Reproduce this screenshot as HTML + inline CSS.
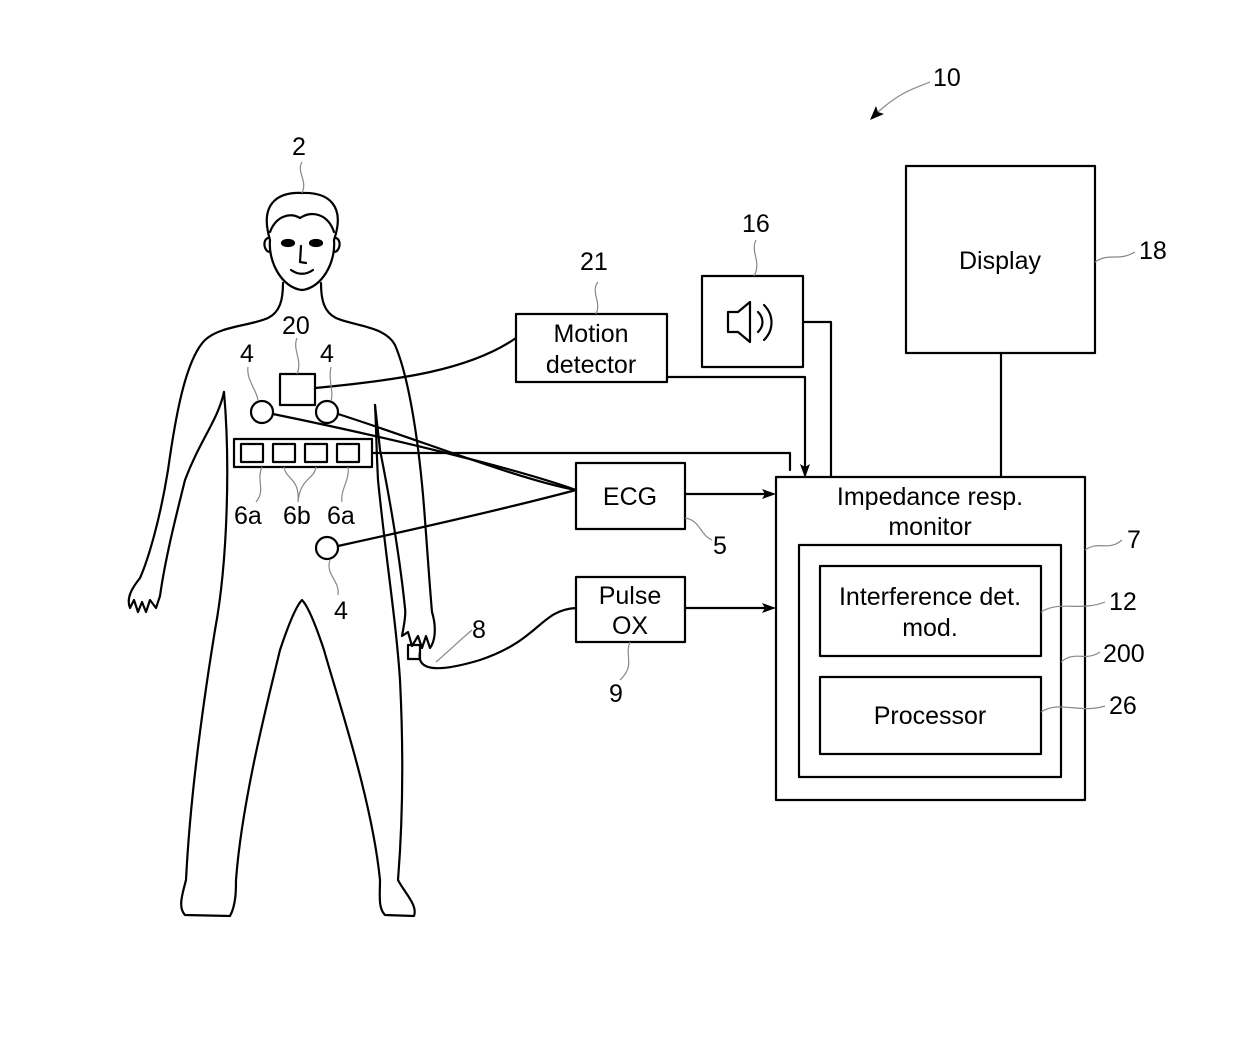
<!DOCTYPE html>
<html><head><meta charset="utf-8"><style>
body{margin:0;background:#fff}
svg{display:block}
text{font-family:"Liberation Sans",sans-serif;font-size:25px;fill:#000}
</style></head><body>
<svg width="1240" height="1044" viewBox="0 0 1240 1044" xmlns="http://www.w3.org/2000/svg">
<g fill="none" stroke="#000" stroke-width="2.2" stroke-linejoin="round" stroke-linecap="round">
<!-- head -->
<path d="M270,240 C258,200 282,192 302,193 C328,192 346,205 334,240 C336,262 322,288 302,290 C282,288 268,262 270,240 Z"/>
<path d="M270,232 C276,216 290,212 300,218 C312,210 328,214 334,232"/>
<path d="M268,238 C262,240 264,252 270,252 M336,238 C342,240 340,252 334,252"/>
<ellipse cx="288" cy="243" rx="6" ry="3" fill="#000"/><ellipse cx="316" cy="243" rx="6" ry="3" fill="#000"/>
<path d="M301,246 L300,262 L306,263"/>
<path d="M291,270 C298,275 306,275 313,270"/>
<!-- body -->
<path d="M283,283 C283,300 280,312 268,318 C250,326 220,326 205,340 C185,360 175,420 168,470 C160,520 148,560 140,578 C132,588 126,598 130,608 L134,600 L138,612 L142,602 L146,612 L150,600 L156,608 L160,596 C165,560 175,520 185,480 C200,440 218,420 224,392"/>
<path d="M224,392 C230,460 228,560 215,630 C202,710 190,800 186,880 C182,895 178,908 185,915 L230,916 C236,905 236,890 236,880 C242,800 268,700 280,650 C290,620 297,605 302,600 C307,605 314,620 324,650 C338,700 372,800 380,880 C380,895 378,908 385,915 L414,916 C418,905 404,892 398,880 C402,830 404,760 400,680 C396,620 386,560 378,480 C376,440 376,420 375,405"/>
<path d="M321,283 C321,300 324,312 336,318 C354,326 385,326 395,345 C410,380 420,450 425,520 C428,560 430,590 432,612 C436,625 436,640 430,648 L426,636 L422,648 L418,636 L412,646 L408,632 L402,636 C404,625 406,615 405,608 C400,560 390,500 380,450 C378,430 376,415 375,405"/>
<!-- sensors -->
<rect x="280" y="374" width="35" height="31"/>
<circle cx="262" cy="412" r="11"/><circle cx="327" cy="412" r="11"/><circle cx="327" cy="548" r="11"/>
<rect x="234" y="439" width="138" height="28"/>
<rect x="241" y="444" width="22" height="18"/><rect x="273" y="444" width="22" height="18"/><rect x="305" y="444" width="22" height="18"/><rect x="337" y="444" width="22" height="18"/>
<rect x="408" y="645" width="12" height="14"/>
<!-- boxes -->
<rect x="516" y="314" width="151" height="68"/>
<rect x="702" y="276" width="101" height="91"/>
<rect x="906" y="166" width="189" height="187"/>
<rect x="576" y="463" width="109" height="66"/>
<rect x="576" y="577" width="109" height="65"/>
<rect x="776" y="477" width="309" height="323"/>
<rect x="799" y="545" width="262" height="232"/>
<rect x="820" y="566" width="221" height="90"/>
<rect x="820" y="677" width="221" height="77"/>
<!-- speaker -->
<path d="M728,312 L738,312 L750,302 L750,342 L738,332 L728,332 Z"/>
<path d="M758,312 C764,318 764,326 758,332 M764,305 C774,315 774,330 764,340"/>
<!-- connections -->
<path d="M315,388 C400,380 470,370 516,338"/>
<path d="M273,414 C400,440 520,470 576,490"/>
<path d="M338,414 C420,440 520,480 576,490"/>
<path d="M338,546 C420,528 520,505 576,490"/>
<path d="M372,453 L790,453 L790,470"/>
<path d="M667,377 L805,377 L805,470"/>
<path d="M803,322 L831,322 L831,477"/>
<path d="M1001,353 L1001,477"/>
<path d="M685,494 L768,494"/><path d="M685,608 L768,608"/>
<path d="M420,652 C416,672 440,672 480,660 C540,640 540,610 576,608"/>
</g>
<g fill="#000">
<path d="M776,494 L762,489 L765,494 L762,499 Z"/>
<path d="M776,608 L762,603 L765,608 L762,613 Z"/>
<path d="M805,478 L800,464 L805,467 L810,464 Z"/>
<path d="M870,120 L876,106 L878,112 L884,114 Z"/>
</g>
<g fill="none" stroke="#888" stroke-width="1.2">
<path d="M878,112 C900,92 915,88 930,82"/>
<path d="M302,162 C296,172 308,180 302,193"/>
<path d="M297,338 C292,350 303,360 297,374"/>
<path d="M248,367 C246,380 258,392 258,401"/>
<path d="M331,367 C328,380 334,392 331,401"/>
<path d="M262,467 C256,480 266,490 256,502"/>
<path d="M284,467 C286,480 300,478 298,502 M316,467 C314,480 300,478 298,502"/>
<path d="M348,467 C350,480 340,490 342,502"/>
<path d="M330,560 C325,575 340,580 338,595"/>
<path d="M598,282 C590,292 602,302 596,314"/>
<path d="M756,240 C750,252 762,262 754,276"/>
<path d="M1095,262 C1110,252 1118,262 1135,252"/>
<path d="M685,518 C700,520 700,535 712,540"/>
<path d="M1085,550 C1100,540 1108,552 1122,540"/>
<path d="M1041,612 C1060,600 1080,612 1105,602"/>
<path d="M1061,662 C1075,650 1085,662 1100,652"/>
<path d="M1041,712 C1060,700 1080,714 1105,706"/>
<path d="M630,642 C624,655 636,665 620,680"/>
<path d="M436,662 C450,650 460,640 472,630"/>
</g>
<text x="933" y="86">10</text>
<text x="292" y="155">2</text>
<text x="282" y="334">20</text>
<text x="240" y="362">4</text>
<text x="320" y="362">4</text>
<text x="234" y="524">6a</text>
<text x="283" y="524">6b</text>
<text x="327" y="524">6a</text>
<text x="334" y="619">4</text>
<text x="580" y="270">21</text>
<text x="742" y="232">16</text>
<text x="1139" y="259">18</text>
<text x="713" y="554">5</text>
<text x="1127" y="548">7</text>
<text x="1109" y="610">12</text>
<text x="1103" y="662">200</text>
<text x="1109" y="714">26</text>
<text x="609" y="702">9</text>
<text x="472" y="638">8</text>
<text x="591" y="342" text-anchor="middle">Motion</text>
<text x="591" y="373" text-anchor="middle">detector</text>
<text x="1000" y="269" text-anchor="middle">Display</text>
<text x="630" y="505" text-anchor="middle">ECG</text>
<text x="630" y="604" text-anchor="middle">Pulse</text>
<text x="630" y="634" text-anchor="middle">OX</text>
<text x="930" y="505" text-anchor="middle">Impedance resp.</text>
<text x="930" y="535" text-anchor="middle">monitor</text>
<text x="930" y="605" text-anchor="middle">Interference det.</text>
<text x="930" y="636" text-anchor="middle">mod.</text>
<text x="930" y="724" text-anchor="middle">Processor</text>
</svg>
</body></html>
